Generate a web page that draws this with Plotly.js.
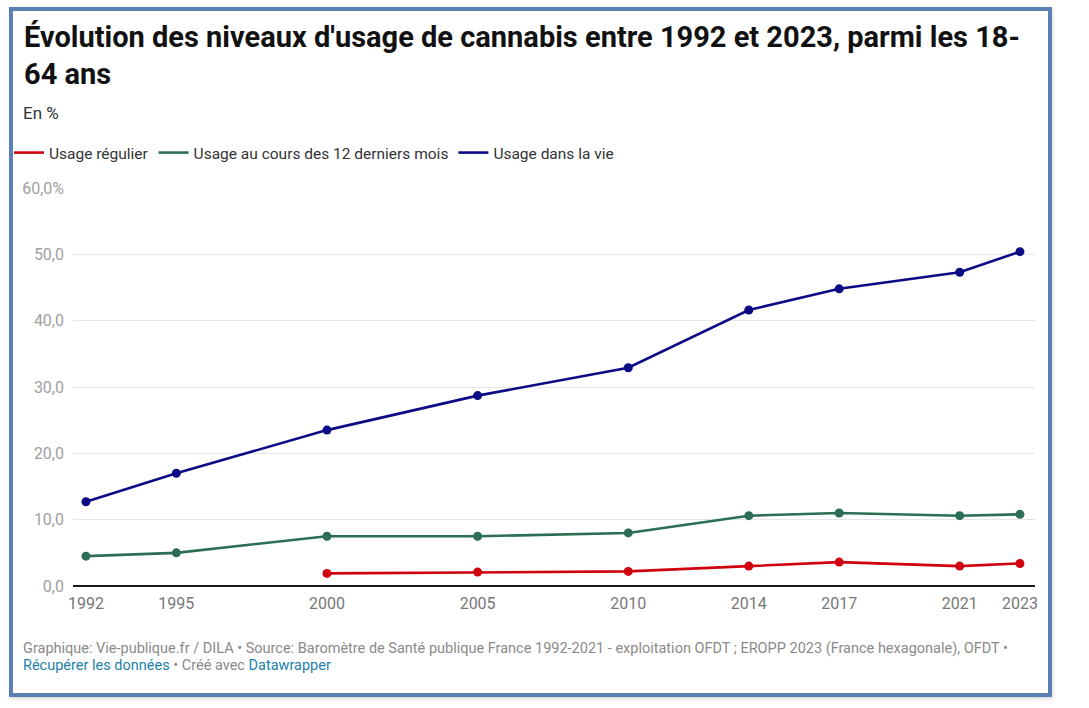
<!DOCTYPE html>
<html>
<head>
<meta charset="utf-8">
<script src="https://cdn.plot.ly/plotly-3.0.1.min.js"></script>
<style>
  html, body { margin: 0; padding: 0; background: #ffffff; }
  #wrap { position: relative; width: 1089px; height: 708px; }
  #frame { position: absolute; left: 9px; top: 7px; width: 1035px; height: 682px; border: 4px solid #5b80b3; box-shadow: 1px 2px 3px rgba(0,0,0,0.15); pointer-events: none; }
  #chart { position: absolute; left: 0; top: 0; width: 1089px; height: 708px; }
</style>
</head>
<body>
<div id="wrap">
  <div id="chart"></div>
  <div id="frame"></div>
</div>
<script>
// ---- Data ----
const years = [1992, 1995, 2000, 2005, 2010, 2014, 2017, 2021, 2023];
const yearLabels = ["1992", "1995", "2000", "2005", "2010", "2014", "2017", "2021", "2023"];
const usageRegulier = [null, null, 1.9, 2.1, 2.2, 3.0, 3.6, 3.0, 3.4];
const usage12Mois = [4.5, 5.0, 7.5, 7.5, 8.0, 10.6, 11.0, 10.6, 10.8];
const usageVie = [12.7, 17.0, 23.5, 28.7, 32.9, 41.6, 44.8, 47.3, 50.4];
const seriesNames = ["Usage régulier", "Usage au cours des 12 derniers mois", "Usage dans la vie"];
const yTickVals = [0, 10, 20, 30, 40, 50, 60];
const yTickText = ["0,0", "10,0", "20,0", "30,0", "40,0", "50,0", "60,0%"];

const colors = ["#d0000f", "#2b6e53", "#0b0b86"];
const seriesData = [usageRegulier, usage12Mois, usageVie];

const traces = [];
seriesData.forEach((ys, i) => {
  traces.push({
    x: years, y: ys, type: "scatter", mode: "lines+markers",
    line: { color: colors[i], width: 2.6 },
    marker: { color: colors[i], size: 9 },
    connectgaps: false, showlegend: false, hoverinfo: "x+y"
  });
});
// legend-only traces (lines only)
seriesData.forEach((ys, i) => {
  traces.push({
    x: [null], y: [null], type: "scatter", mode: "lines",
    name: seriesNames[i],
    line: { color: colors[i], width: 2.6 },
    showlegend: true, hoverinfo: "skip"
  });
});

// plot area geometry
const L = 73, R = 1035, T = 188, B = 586;
const W = 1089, H = 708;
const px = v => (v - L) / (R - L);
const py = v => (B - v) / (B - T);

const layout = {
  width: W, height: H,
  paper_bgcolor: "#ffffff", plot_bgcolor: "#ffffff",
  margin: { l: L, r: W - R, t: T, b: H - B, pad: 0, autoexpand: false },
  font: { family: "Roboto, 'Liberation Sans', sans-serif", color: "#333333" },
  title: {
    text: "Évolution des niveaux d'usage de cannabis entre 1992 et 2023, parmi les 18-<br>64 ans",
    font: { family: "Roboto, sans-serif", size: 29, color: "#111111", weight: "bold" },
    x: 24 / W, xanchor: "left", xref: "container",
    y: 1 - 46.5 / H, yanchor: "top", yref: "container"
  },
  xaxis: {
    type: "linear",
    range: [1991.57, 2023.5],
    tickvals: years, ticktext: yearLabels,
    showgrid: false, zeroline: false,
    showline: false, ticks: "",
    tickfont: { family: "Roboto, sans-serif", size: 16, color: "#777777" },
    ticklabelstandoff: 6,
    automargin: false,
    fixedrange: true
  },
  yaxis: {
    range: [0, 60],
    tickvals: yTickVals, ticktext: yTickText,
    showgrid: true, gridcolor: "#e6e6e6", gridwidth: 1,
    zeroline: true, zerolinecolor: "#1a1a1a", zerolinewidth: 1.5,
    showline: false, ticks: "",
    tickfont: { family: "Roboto, sans-serif", size: 16, color: "#a0a0a0" },
    ticklabelstandoff: 8,
    automargin: false,
    fixedrange: true
  },
  showlegend: true,
  legend: {
    orientation: "h",
    xref: "container", yref: "container",
    x: 9 / W, xanchor: "left",
    y: 1 - 136 / H, yanchor: "top",
    font: { family: "Roboto, sans-serif", size: 15.5, color: "#333333" },
    itemwidth: 30,
    tracegroupgap: 0,
    bgcolor: "rgba(0,0,0,0)"
  },
  annotations: [
    {
      text: "En %", xref: "paper", yref: "paper",
      x: px(21), y: py(113), xanchor: "left", yanchor: "middle",
      showarrow: false,
      font: { family: "Roboto, sans-serif", size: 17, color: "#333333" }
    },
    {
      text: "Graphique: Vie-publique.fr / DILA • Source: Baromètre de Santé publique France 1992-2021 - exploitation OFDT ; EROPP 2023 (France hexagonale), OFDT •",
      xref: "paper", yref: "paper",
      x: px(21), y: py(648), xanchor: "left", yanchor: "middle",
      showarrow: false,
      font: { family: "Roboto, sans-serif", size: 14.5, color: "#8a8a8a" }
    },
    {
      text: "<span style='color:#1d7fa8'>Récupérer les données</span> • Créé avec <span style='color:#1d7fa8'>Datawrapper</span>",
      xref: "paper", yref: "paper",
      x: px(21), y: py(665), xanchor: "left", yanchor: "middle",
      showarrow: false,
      font: { family: "Roboto, sans-serif", size: 14.5, color: "#8a8a8a" }
    }
  ]
};

Plotly.newPlot("chart", traces, layout, { displayModeBar: false, staticPlot: false, responsive: false });
</script>
</body>
</html>
